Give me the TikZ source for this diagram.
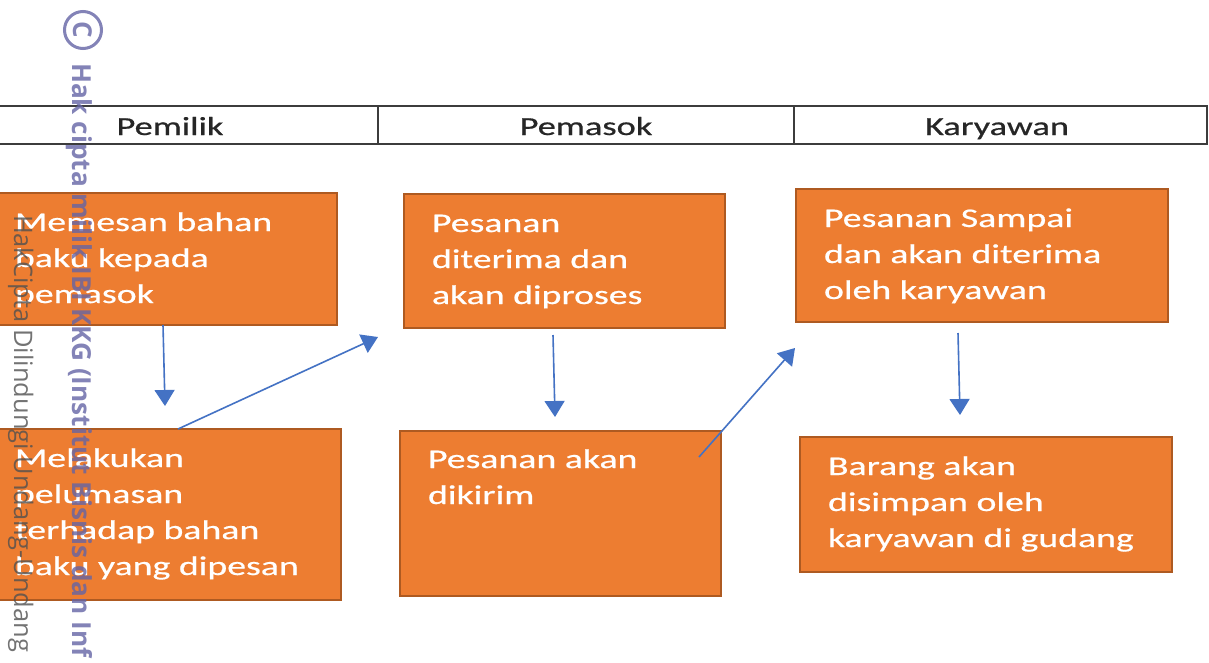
\documentclass[tikz,border=0pt]{standalone}
\usepackage{fontspec}
\setmainfont{Carlito}[FakeStretch=1.4,FakeBold=0.6]
\newfontfamily\wmfont{Open Sans}
\usetikzlibrary{calc,arrows.meta}
\newlength\wmlenA
\newlength\wmlenB
\definecolor{boxfill}{RGB}{237,125,49}
\definecolor{boxdraw}{RGB}{174,90,33}
\definecolor{arrowblue}{RGB}{68,114,196}
\definecolor{wmblue}{RGB}{100,100,165}
\definecolor{wmgray}{RGB}{80,80,80}
\definecolor{laneline}{RGB}{60,60,60}
\tikzset{
  procbox/.style={draw=boxdraw, fill=boxfill, line width=2pt, inner sep=0pt, outer sep=0pt, anchor=north west},
  proctext/.style={anchor=base west, inner sep=0pt, outer sep=0pt, text=white, font=\fontsize{27}{36}\selectfont},
  lanehead/.style={anchor=base, inner sep=0pt, text=black!85, font=\fontsize{26}{30}\selectfont},
  laneframe/.style={draw=laneline, line width=1.8pt},
  flow/.style={draw=arrowblue, line width=1.6pt, -{Triangle[width=20pt,length=16pt]}},
  wmark/.style={rotate=-90, anchor=base west, inner sep=0pt, outer sep=0pt}
}
\begin{document}
\settowidth\wmlenA{\wmfont\bfseries\fontsize{20}{24}\selectfont Hak cipta milik IBI KKG (Institut Bisnis dan}%
\settowidth\wmlenB{\wmfont\fontsize{20}{24}\selectfont HakCipta Dilindungi Undang-Undang}%
\pgfmathsetmacro\wmszA{20*552/\wmlenA}%
\pgfmathsetmacro\wmszB{20*437/\wmlenB}%
\begin{tikzpicture}[x=1pt,y=-1pt]
\useasboundingbox (0,0) rectangle (1209,662);
\clip (0,0) rectangle (1209,662);
\fill[white] (0,0) rectangle (1209,662);

% lane header
\draw[laneframe] (-20,106) -- (1207,106) -- (1207,144) -- (-20,144);
\draw[laneframe] (378,106) -- (378,144);
\draw[laneframe] (794,106) -- (794,144);
\node[lanehead] (h1) at (170,135) {Pemilik};
\node[lanehead] (h2) at (586,135) {Pemasok};
\node[lanehead] (h3) at (997,135) {Karyawan};

% process boxes
\node[procbox, minimum width=350pt, minimum height=132pt] (b1) at (-13,193) {};
\node[procbox, minimum width=354pt, minimum height=171pt] (b2) at (-13,429) {};
\node[procbox, minimum width=321pt, minimum height=134pt] (b3) at (404,194) {};
\node[procbox, minimum width=321pt, minimum height=165pt] (b4) at (400,431) {};
\node[procbox, minimum width=372pt, minimum height=133pt] (b5) at (796,189) {};
\node[procbox, minimum width=372pt, minimum height=135pt] (b6) at (800,437) {};

\node[proctext] (t1) at ($(b1.north west)+(28,38)$) {\parbox[t]{400pt}{Memesan bahan\\baku kepada\\pemasok}};
\node[proctext] (t2) at ($(b2.north west)+(28,38)$) {\parbox[t]{400pt}{Melakukan\\pelumasan\\terhadap bahan\\baku yang dipesan}};
\node[proctext] (t3) at ($(b3.north west)+(28,38)$) {\parbox[t]{400pt}{Pesanan\\diterima dan\\akan diproses}};
\node[proctext] (t4) at ($(b4.north west)+(28,37)$) {\parbox[t]{400pt}{Pesanan akan\\dikirim}};
\node[proctext] (t5) at ($(b5.north west)+(28,38)$) {\parbox[t]{400pt}{Pesanan Sampai\\dan akan diterima\\oleh karyawan}};
\node[proctext] (t6) at ($(b6.north west)+(28,38)$) {\parbox[t]{400pt}{Barang akan\\disimpan oleh\\karyawan di gudang}};

% connectors
\coordinate (a1s) at ($(b1.south west)+(176,0)$);
\coordinate (a1e) at ($(b2.north west)+(178,-23)$);
\coordinate (a2s) at ($(b2.north west)+(191,0)$);
\coordinate (a2e) at ($(b3.south west)+(-26,9)$);
\coordinate (a3s) at ($(b3.south west)+(149,7)$);
\coordinate (a3e) at ($(b4.north west)+(155,-14)$);
\coordinate (a4s) at ($(b4.north west)+(299,26)$);
\coordinate (a4e) at ($(b5.south west)+(-1,26)$);
\coordinate (a5s) at ($(b5.south west)+(162,11)$);
\coordinate (a5e) at ($(b6.north west)+(160,-22)$);
\draw[flow] (a1s) -- (a1e);
\draw[flow] (a2s) -- (a2e);
\draw[flow] (a3s) -- (a3e);
\draw[flow] (a4s) -- (a4e);
\draw[flow] (a5s) -- (a5e);

% watermark
\node[wmark, text=wmblue, text opacity=0.8, font=\wmfont\bfseries\fontsize{\wmszA}{\wmszA}\selectfont] (wm1) at (72,63) {Hak cipta milik IBI KKG (Institut Bisnis dan Inf};
\node[wmark, text=wmgray, text opacity=0.8, font=\wmfont\fontsize{\wmszB}{\wmszB}\selectfont] (wm2) at (14,215) {HakCipta Dilindungi Undang-Undang};
\node[circle, draw=wmblue, draw opacity=0.8, line width=3pt, minimum size=37pt, inner sep=0pt] (wmc) at (83,30) {};
\node[rotate=-90, inner sep=0pt, text=wmblue, text opacity=0.8, font=\wmfont\bfseries\fontsize{26}{26}\selectfont] (wmcl) at (wmc.center) {C};
\end{tikzpicture}
\end{document}
